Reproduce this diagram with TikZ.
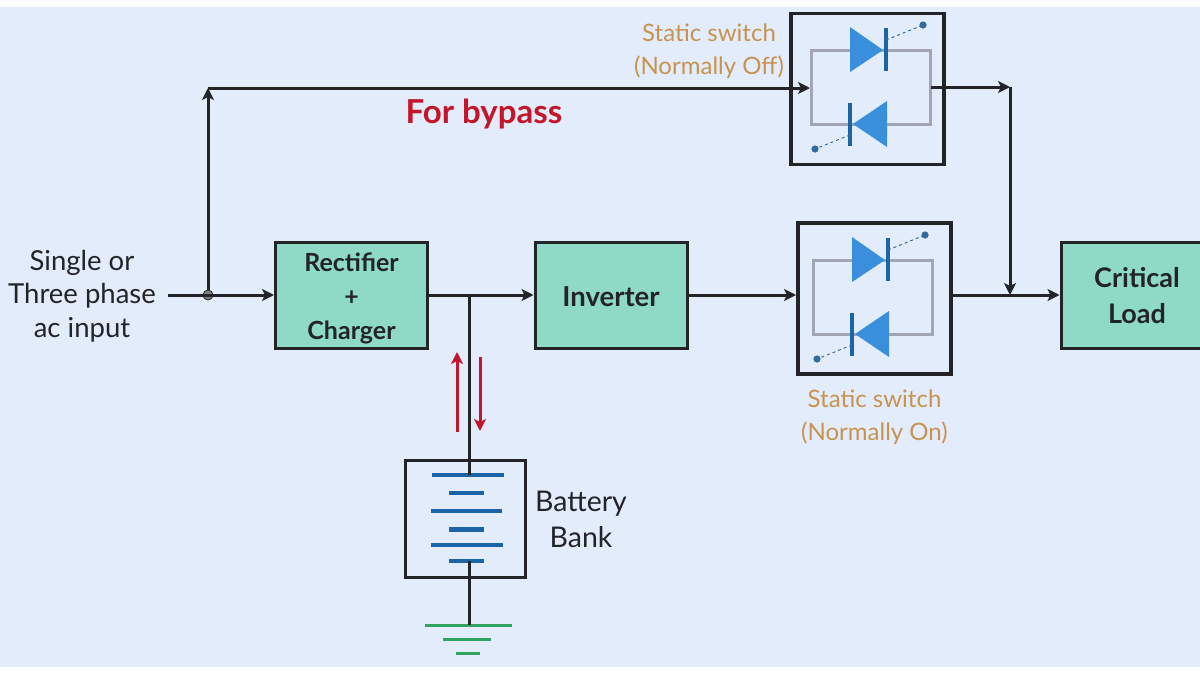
\documentclass[tikz,border=0pt]{standalone}
\usepackage{fontspec}
\setmainfont{Lato}
\usetikzlibrary{arrows.meta}
\definecolor{pagebg}{HTML}{E2ECFB}
\definecolor{blockfill}{HTML}{8EDAC7}
\definecolor{diodeblue}{HTML}{3A8FDC}
\definecolor{platedark}{HTML}{1B64A8}
\definecolor{framegray}{HTML}{A2A6B2}
\definecolor{labelorange}{HTML}{C8934F}
\definecolor{redline}{HTML}{C4162A}
\definecolor{earthgreen}{HTML}{2FA35F}
\definecolor{ink}{HTML}{222428}
\newcommand{\thyristors}[1]{%
  \begin{scope}[shift={(#1)}]
    \fill[diodeblue] (-20.5,-60) -- (-20.5,-15) -- (12.5,-37) -- cycle;
    \draw[platedark,line width=4pt] (15.5,-59) -- (15.5,-16);
    \draw[platedark!70!gray,dashed,line width=1pt] (15.5,-47) -- (52.5,-62);
    \fill[platedark!75!gray] (52.5,-62) circle (3.6);
    \fill[diodeblue] (16.5,14) -- (16.5,60) -- (-17.5,37) -- cycle;
    \draw[platedark,line width=4pt] (-20.5,16) -- (-20.5,59);
    \draw[platedark!70!gray,dashed,line width=1pt] (-20.5,48) -- (-55.5,62);
    \fill[platedark!75!gray] (-55.5,62) circle (3.6);
  \end{scope}}

\begin{document}
\begin{tikzpicture}[x=1pt,y=-1pt,>={Stealth[length=12pt,width=12pt,inset=3pt]},semithick]
\tikzstyle{block}=[draw=ink,fill=blockfill,line width=3pt,minimum width=152pt,minimum height=106pt,inner sep=0pt]
\tikzstyle{swbox}=[draw=ink,line width=3.2pt,minimum width=153pt,minimum height=151pt,inner sep=0pt]
\tikzstyle{frame}=[draw=framegray,line width=3pt,minimum width=119pt,minimum height=74pt,inner sep=0pt]
\tikzstyle{lbl}=[align=center,text=ink,inner sep=0pt]
\tikzstyle{blocktxt}=[lbl,font=\bfseries\fontsize{25}{34}\selectfont]
\tikzstyle{every edge}=[draw=ink,line width=3pt]
\tikzset{font=\fontsize{24}{32.5}\selectfont}

        \useasboundingbox (0,0) rectangle (1200,675);
        \clip (0,0) rectangle (1200,675);
        \fill[white] (0,0) rectangle (1200,675);
        \fill[pagebg] (0,7) rectangle (1200,667);

        \node[block]                                     (rect) at (351.5,295)         {};
        \node[block]                                     (inv)  [right of=rect, node distance=259.5pt] {};
        \node[swbox]                                     (sw2)  [right of=inv, node distance=263.5pt, yshift=-3.5pt] {};
        \node[block,minimum width=154pt]                 (load) [right of=sw2, node distance=263.5pt, yshift=3.5pt] {};
        \node[swbox]                                     (sw1)  at (867.5,89)          {};
        \node[draw=ink,line width=3pt,minimum width=120pt,minimum height=117pt,inner sep=0pt] (bat) at (465,518.5) {};

        \node[frame]                                     (f1)   [right of=sw1, node distance=3pt, yshift=2pt] {};
        \node[frame]                                     (f2)   [left of=sw2, node distance=2pt, yshift=1.5pt] {};
        \thyristors{f1.center}
        \thyristors{f2.center}

        \node[blocktxt]                                  (rectl) at (351.5,298.5)      {Rectifier\\+\\Charger};
        \node[blocktxt,font=\bfseries\fontsize{27.5}{34}\selectfont] (invl) at (611,297) {Inverter};
        \node[blocktxt,font=\bfseries\fontsize{27}{36}\selectfont] (loadl) at (1137,296) {Critical\\Load};

        \node[lbl,font=\fontsize{27.5}{33.5}\selectfont] (input) at (82,296)           {Single or\\Three phase\\ac input};
        \node[lbl,text=labelorange]                      (sw1l)  at (709,51)           {Static switch\\(Normally Off)};
        \node[lbl,text=labelorange]                      (sw2l)  [below of=sw2, node distance=118.5pt] {Static switch\\(Normally On)};
        \node[lbl,font=\fontsize{28.5}{36}\selectfont]   (batl)  at (581,519)          {Battery\\Bank};
        \node[lbl,text=redline,font=\bfseries\fontsize{33}{34}\selectfont] (byp) at (484,114) {For bypass};

        \coordinate (start) at (168,295);
        \coordinate (tl)    at (208,88);
        \coordinate (tr)    at (1010,87);
        \coordinate (join)  at (1010,295);
        \coordinate (f1in)  at (810,88);
        \coordinate (f1out) at (931,87);
        \coordinate (sw2in) at (796,295);
        \coordinate (sw2out) at (952,295);
        \coordinate (tap)   at (469,295);
        \coordinate (p1)    at (469,475);
        \coordinate (p6)    at (469,561);
        \coordinate (gnd)   at (469,625);
        \node[circle,fill=gray,draw=ink,line width=0.8pt,minimum size=10pt,inner sep=0pt] (dot) at (208,295) {};

        % battery plates
        \foreach \yy/\xa/\xb in {475/432/504,511/431/502,545/431/503}
          \draw[platedark,line width=4.5pt] (\xa,\yy) -- (\xb,\yy);
        \foreach \yy in {493,529.5,561}
          \draw[platedark,line width=4.5pt] (449,\yy) -- (484,\yy);

        % earth
        \draw[earthgreen,line width=3pt] (425,625) -- (512,625);
        \draw[earthgreen,line width=3pt] (443,639) -- (491,639);
        \draw[earthgreen,line width=3pt] (456,653) -- (480,653);

        \path[->]
        (start)   edge (rect.west)
        (dot)     edge (tl)
        (tl)      edge (f1in)
        (f1out)   edge (tr)
        (tr)      edge (join)
        (rect.east) edge (inv.west)
        (inv.east)  edge (sw2in)
        (sw2out)    edge (load.west)
        ; %end path

        \path
        (tap) edge (p1)
        (p6)  edge (gnd)
        ; %end path

        \draw[->,redline,line width=3pt] (457,432) -- (457,352);
        \draw[->,redline,line width=3pt] (480,357) -- (480,431);

\end{tikzpicture}
\end{document}
